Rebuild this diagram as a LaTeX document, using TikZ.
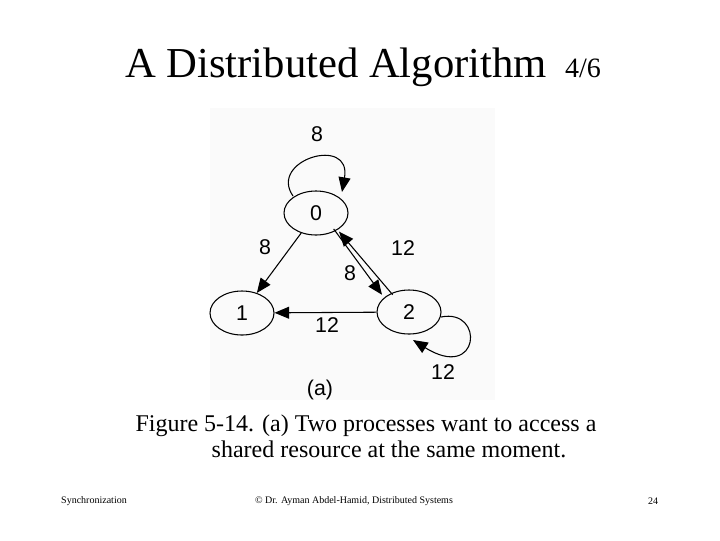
\documentclass[tikz,border=0pt]{standalone}
\usepackage{fontspec}
\setmainfont{Liberation Serif}
\newfontfamily\figfont{Liberation Sans}
\usetikzlibrary{arrows.meta,shapes.geometric}
\begin{document}
\begin{tikzpicture}[x=0.75pt,y=-0.75pt,
  st/.style={draw,ellipse,minimum width=48pt,minimum height=33pt,inner sep=0pt,font=\figfont\fontsize{16}{16}\selectfont,line width=0.8pt},
  lab/.style={font=\figfont\fontsize{16}{16}\selectfont},
  ed/.style={line width=0.8pt,-{Triangle[length=11pt,width=9pt]}}]
\useasboundingbox (0,0) rectangle (720,540);
\fill[black!2] (210,108) rectangle (495,400);
\node[font=\fontsize{32}{32}\selectfont,anchor=base] (title) at (336,77) {A Distributed Algorithm};
\node[font=\fontsize{21}{21}\selectfont,anchor=base] (pg) at (583,77) {4/6};
\node[st] (n0) at (316,213) {0};
\node[st] (n1) at (242,313) {1};
\node[st] (n2) at (409,312) {2};
\coordinate (s0) at (293,196);
\coordinate (e0) at (342,192);
\draw[ed] (s0) .. controls (268,160) and (352,135) .. (e0);
\coordinate (s2) at (441,317);
\coordinate (e2) at (413,340);
\draw[ed] (s2) .. controls (485,308) and (480,382) .. (e2);
\draw[ed] (n0) -- (n1);
\draw[ed] ([xshift=-4pt]n0.south east) -- ([xshift=-3pt,yshift=1pt]n2.north west);
\draw[ed] ([xshift=5pt,yshift=1pt]n2.north west) -- ([yshift=-2pt]n0.south east);
\draw[ed] (n2) -- (n1);
\node[lab] (a) at (317,134) {8};
\node[lab] (b) at (265,247) {8};
\node[lab] (c) at (350,273) {8};
\node[lab] (d) at (403,248) {12};
\node[lab] (e) at (327,325) {12};
\node[lab] (f) at (443,372) {12};
\node[lab] (g) at (320,390) {(a)};
\node[font=\fontsize{18}{18}\selectfont,anchor=base] (cap1) at (366,431) {Figure 5-14. (a) Two processes want to access a};
\node[font=\fontsize{18}{18}\selectfont,anchor=base] (cap2) at (389,457) {shared resource at the same moment.};
\node[font=\fontsize{7.5}{8}\selectfont] (f1) at (94,501) {Synchronization};
\node[font=\fontsize{7.5}{8}\selectfont] (f2) at (354,501) {© Dr. Ayman Abdel-Hamid, Distributed Systems};
\node[font=\fontsize{7.5}{8}\selectfont] (f3) at (653,501) {24};
\end{tikzpicture}
\end{document}
